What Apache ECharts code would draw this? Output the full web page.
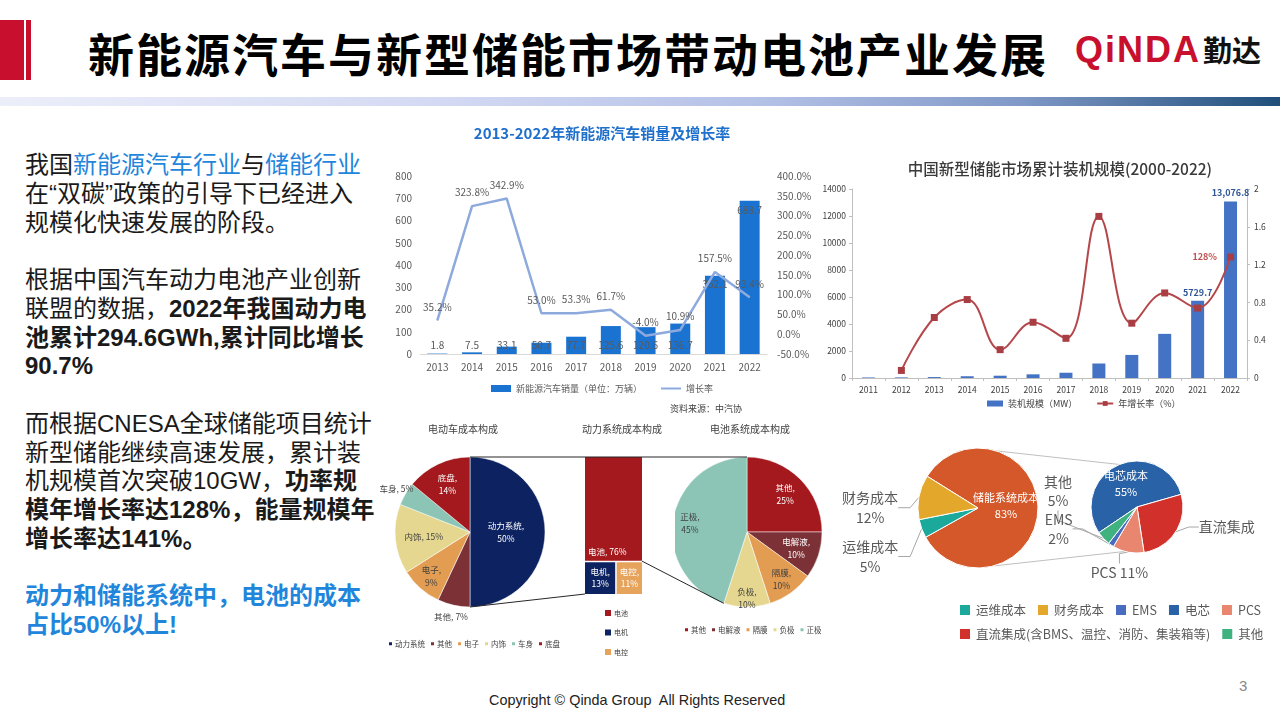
<!DOCTYPE html>
<html><head><meta charset="utf-8">
<script src="https://cdn.jsdelivr.net/npm/echarts/dist/echarts.min.js"></script>
<style>
html,body{margin:0;padding:0;width:1280px;height:720px;overflow:hidden;background:#fff;font-family:"Noto Sans CJK SC",sans-serif;}
.abs{position:absolute;}
.blue{color:#1f86dc;}
b{font-weight:bold;}
</style></head><body>
<div class="abs" style="left:0;top:20px;width:24px;height:60px;background:#c8102e"></div>
<div class="abs" style="left:26px;top:20px;width:5px;height:60px;background:#c8102e"></div>
<div class="abs" style="left:88px;top:29px;font-size:46px;line-height:46px;font-weight:bold;color:#000;letter-spacing:2px;white-space:nowrap;font-family:'Noto Sans CJK SC'">新能源汽车与新型储能市场带动电池产业发展</div>
<div class="abs" style="left:1075px;top:32px;font-size:36px;line-height:36px;font-weight:bold;color:#c8102e;letter-spacing:2px;font-family:'Liberation Sans',Arial,sans-serif;white-space:nowrap">QiNDA</div>
<div class="abs" style="left:1203px;top:35px;font-size:29px;line-height:29px;font-weight:bold;color:#111;white-space:nowrap;font-family:'Noto Sans CJK SC'">勤达</div>
<div class="abs" style="left:0;top:97px;width:1280px;height:9px;background:linear-gradient(to right,#eceef9 0%,#d3d9f3 35%,#b3c0e6 60%,#7f98c6 80%,#1f4e7a 100%)"></div>

<div class="abs" style="left:25px;top:151px;font-size:24px;line-height:28.75px;color:#1a1a1a;white-space:nowrap;font-family:'Liberation Sans','Noto Sans CJK SC',sans-serif">
我国<span class="blue">新能源汽车行业</span>与<span class="blue">储能行业</span><br>
在“双碳”政策的引导下已经进入<br>
规模化快速发展的阶段。<br>
<br>
根据中国汽车动力电池产业创新<br>
联盟的数据，<b>2022年我国动力电</b><br>
<b>池累计294.6GWh,累计同比增长</b><br>
<b>90.7%</b><br>
<br>
而根据CNESA全球储能项目统计<br>
新型储能继续高速发展，累计装<br>
机规模首次突破10GW，<b>功率规</b><br>
<b>模年增长率达128%，能量规模年</b><br>
<b>增长率达141%。</b><br>
<br>
<b class="blue">动力和储能系统中，电池的成本</b><br>
<b class="blue">占比50%以上!</b>
</div>

<div class="abs" style="left:489px;top:691px;font-size:14.4px;line-height:18px;color:#222;white-space:pre;font-family:'Liberation Sans',Arial,sans-serif">Copyright © Qinda Group  All Rights Reserved</div>
<div class="abs" style="left:1239px;top:677px;font-size:15px;line-height:18px;color:#888;font-family:'Liberation Sans',Arial,sans-serif">3</div>

<div id="cA" class="abs" style="left:380px;top:112px;width:444px;height:310px"></div>
<div id="cB" class="abs" style="left:810px;top:150px;width:470px;height:265px"></div>
<div id="cC1" class="abs" style="left:360px;top:415px;width:205px;height:245px"></div>
<div id="cC2" class="abs" style="left:565px;top:415px;width:110px;height:245px"></div>
<div id="cC3" class="abs" style="left:675px;top:415px;width:155px;height:245px"></div>
<div id="cD" class="abs" style="left:830px;top:430px;width:450px;height:225px"></div>
<div id="cO" class="abs" style="left:0;top:0;width:1280px;height:720px;pointer-events:none;z-index:10"></div>

<script>
// ---------------- DATA ----------------
const nevYears = ['2013','2014','2015','2016','2017','2018','2019','2020','2021','2022'];
const nevSales = [1.8, 7.5, 33.1, 50.7, 77.7, 125.6, 120.6, 136.7, 352.1, 688.7];
const nevGrowth = [35.2, 323.8, 342.9, 53.0, 53.3, 61.7, -4.0, 10.9, 157.5, 93.4];
const nevSalesName = '新能源汽车销量（单位：万辆）';
const nevGrowthName = '增长率';

const essYears = ['2011','2012','2013','2014','2015','2016','2017','2018','2019','2020','2021','2022'];
const essCapacity = [40, 43, 70, 130, 170, 272, 390, 1073.7, 1709.6, 3269.2, 5729.7, 13076.8];
const essGrowth = [null, 0.08, 0.64, 0.83, 0.30, 0.59, 0.42, 1.71, 0.58, 0.90, 0.74, 1.28];
const essCapName = '装机规模（MW）';
const essGrowthName = '年增长率（%）';

const carCostNames = ['动力系统','其他','电子','内饰','车身','底盘'];
const carCostShare = [50, 7, 9, 15, 5, 14];
const driveCostNames = ['电池','电机','电控'];
const driveCostShare = [76, 13, 11];
const cellCostNames = ['其他','电解液','隔膜','负极','正极'];
const cellCostShare = [25, 10, 10, 10, 45];

const essCostNames = ['储能系统成本','运维成本','财务成本'];
const essCostShare = [83, 5, 12];
const sysCostNames = ['电芯','直流集成(含BMS、温控、消防、集装箱等)','PCS','EMS','其他'];
const sysCostLabels = ['电芯成本','直流集成','PCS','EMS','其他'];
const sysCostShare = [55, 27, 11, 2, 5];
const essLegendOrder = ['运维成本','财务成本','EMS','电芯','PCS','直流集成(含BMS、温控、消防、集装箱等)','其他'];

// ---------------- STYLE ----------------
const FONT = '"Noto Sans CJK SC", sans-serif';
const carColors = ['#0d2260','#7b3136','#e29d52','#e5d78f','#8cc5b6','#a3191d'];
const carLabelColors = ['#fff','#404040','#404040','#404040','#404040','#fff'];
const carLabelFmt = ['{b},\n{c}%','{b}, {c}%','{b},\n{c}%','{b}, {c}%','{b}, {c}%','{b},\n{c}%'];
const carLabelR = [0.48, 1.16, 0.78, 0.62, 1.14, 0.71];
const driveColors = ['#a3191d','#0d2260','#e6a35c'];
const cellColors = ['#a3191d','#7b3136','#e29d52','#e5d78f','#8cc5b6'];
const cellLabelColors = ['#fff','#fff','#404040','#404040','#404040'];
const cellLabelR = [0.72, 0.69, 0.78, 0.88, 0.77];
const essColors = ['#d4582a','#1aa99b','#e3a72b'];
const sysColors = ['#2a62a7','#d1302b','#e9866f','#4a6cc0','#3fb27f'];
const sysLabelFmt = ['{n}\n{v}%','{n}','{n} {v}%','{n}\n{v}%','{n}\n{v}%'];
const essLabelNudge = [[-5,-3],[1,25],[4,12]];
const sysLabelNudge = [null,[3,-8],[36,15],[-20,-21],[-12,-51]];

// geometry (page px)
const P1 = {cx:470, cy:532, r:75};
const P3 = {cx:747, cy:532, r:75};
const TM = {x:585, y:457, w:57, h:137};
const BIG = {cx:148, cy:78, r:60, start:148};
const SMALL = {cx:307, cy:77, r:46, start:214};
const C1_LEFT = 360;

function radialLabels(cx, cy, r, ratios) {
  return function (p) {
    const k = ratios[p.dataIndex];
    if (k == null) return {};
    const b = p.labelRect;
    const mx = b.x + b.width / 2, my = b.y + b.height / 2;
    const vx = mx - cx, vy = my - cy, d = Math.hypot(vx, vy) || 1;
    return {x: cx + vx / d * k * r, y: cy + vy / d * k * r, align: 'center', verticalAlign: 'middle'};
  };
}
function nudgeLabels(offsets) {
  return function (p) {
    const o = offsets[p.dataIndex];
    if (!o) return {};
    const b = p.labelRect;
    return {x: b.x + b.width / 2 + o[0], y: b.y + b.height / 2 + o[1], align: 'center', verticalAlign: 'middle'};
  };
}
function titleText(x, y, text, size, color, weight) {
  return {type:'text', x:x, y:y, style:{text:text, fill:color, font:(weight||'normal') + ' ' + size + 'px ' + FONT, textAlign:'center', textVerticalAlign:'middle', align:'center', verticalAlign:'middle'}};
}

// ---------------- CHART A ----------------
const cA = echarts.init(document.getElementById('cA'));
cA.setOption({
  animation:false,
  textStyle:{fontFamily:FONT},
  title:{text:'2013-2022年新能源汽车销量及增长率', left:'center', top:9, textStyle:{color:'#1f6fcc', fontSize:15, fontWeight:'bold', fontFamily:FONT}},
  grid:{left:40, right:57, top:64, bottom:68},
  legend:{top:272, left:'center', itemWidth:20, itemHeight:7, itemGap:18, padding:0,
    textStyle:{fontSize:9, color:'#595959', fontFamily:FONT},
    data:[{name:nevSalesName, icon:'rect'}, {name:nevGrowthName, itemStyle:{opacity:0}}]},
  xAxis:{type:'category', data:nevYears, axisLine:{lineStyle:{color:'#d9d9d9'}}, axisTick:{show:false},
    axisLabel:{color:'#595959', fontSize:10, margin:8}},
  yAxis:[
    {type:'value', min:0, max:800, interval:100, axisLine:{show:false}, axisTick:{show:false}, splitLine:{show:false},
      axisLabel:{color:'#595959', fontSize:10, margin:8}},
    {type:'value', min:-50, max:400, interval:50, position:'right', axisLine:{show:false}, axisTick:{show:false}, splitLine:{show:false},
      axisLabel:{color:'#595959', fontSize:10, margin:10, formatter:v => v.toFixed(1) + '%'}}
  ],
  series:[
    {type:'bar', name:nevSalesName, barWidth:20, itemStyle:{color:'#1a73d1'},
      label:{show:true, color:'#595959', fontSize:10, distance:4},
      data:nevSales.map(v => ({value:v, label:{position: v > 300 ? 'insideTop' : 'insideBottom'}}))},
    {type:'line', name:nevGrowthName, yAxisIndex:1, data:nevGrowth, symbol:'circle', symbolSize:1, showSymbol:true,
      lineStyle:{color:'#8eaadc', width:2.5}, itemStyle:{color:'#8eaadc'}, z:3,
      label:{show:true, position:'top', distance:8, color:'#595959', fontSize:10, formatter:p => p.value.toFixed(1) + '%'}}
  ],
  graphic:[{type:'text', left:290, top:292, style:{text:'资料来源：中汽协', fill:'#404040', font:'9px ' + FONT}}]
});

// ---------------- CHART B ----------------
const cB = echarts.init(document.getElementById('cB'));
const lastIdx = essYears.length - 1;
cB.setOption({
  animation:false,
  textStyle:{fontFamily:FONT},
  graphic:[titleText(250, 19, '中国新型储能市场累计装机规模(2000-2022)', 15.5, '#3a3a3a', '500')],
  grid:{left:42, right:33, top:39, bottom:37},
  legend:{top:249, left:177, itemWidth:16, itemHeight:6, itemGap:19, padding:0,
    textStyle:{fontSize:9, color:'#404040', fontFamily:FONT},
    data:[{name:essCapName, icon:'rect'}, {name:essGrowthName}]},
  xAxis:{type:'category', data:essYears, axisLine:{lineStyle:{color:'#bfbfbf'}},
    axisTick:{show:true, length:3, lineStyle:{color:'#bfbfbf'}},
    axisLabel:{color:'#404040', fontSize:8.5, margin:8}},
  yAxis:[
    {type:'value', min:0, max:14000, interval:2000, axisLine:{show:true, lineStyle:{color:'#bfbfbf'}},
      axisTick:{show:true, length:3, lineStyle:{color:'#bfbfbf'}}, splitLine:{show:false},
      axisLabel:{color:'#404040', fontSize:8.5, margin:6, formatter:v => String(v)}},
    {type:'value', min:0, max:2, interval:0.4, position:'right', axisLine:{show:true, lineStyle:{color:'#bfbfbf'}},
      axisTick:{show:true, length:3, lineStyle:{color:'#bfbfbf'}}, splitLine:{show:false},
      axisLabel:{color:'#404040', fontSize:8.5, margin:7, formatter:v => String(Math.round(v * 10) / 10)}}
  ],
  series:[
    {type:'bar', name:essCapName, barWidth:13, itemStyle:{color:'#4472c4'},
      label:{show:false, position:'top', distance:4, color:'#2f5597', fontSize:9, fontWeight:'bold',
        formatter:p => p.value >= 10000 ? p.value.toLocaleString('en-US', {minimumFractionDigits:1}) : String(p.value)},
      data:essCapacity.map(v => ({value:v, label:{show: v > 5000}}))},
    {type:'line', name:essGrowthName, yAxisIndex:1, smooth:0.4, connectNulls:false,
      symbol:'rect', symbolSize:7, lineStyle:{color:'#b5474b', width:2}, itemStyle:{color:'#a83e43'}, z:3,
      label:{show:false, position:'left', distance:10, color:'#c0504d', fontSize:9, fontWeight:'bold',
        formatter:p => Math.round(p.value * 100) + '%'},
      data:essGrowth.map((v, i) => ({value:v, label:{show: i === lastIdx}}))}
  ]
});

// ---------------- CHART C1 (car cost pie) ----------------
const c1 = echarts.init(document.getElementById('cC1'));
const c1cx = P1.cx - C1_LEFT, c1cy = P1.cy - 415;
c1.setOption({
  animation:false,
  graphic:[titleText(463 - C1_LEFT, 14, '电动车成本构成', 10, '#404040')],
  legend:{left:387 - C1_LEFT, top:225, padding:0, itemWidth:5, itemHeight:5, itemGap:4, icon:'rect',
    textStyle:{fontSize:7.5, color:'#404040', fontFamily:FONT, padding:[0,0,0,-3]}, data:carCostNames},
  series:[{type:'pie', center:[c1cx, c1cy], radius:P1.r, startAngle:90, clockwise:true, avoidLabelOverlap:false,
    itemStyle:{borderColor:'#fff', borderWidth:0.5},
    label:{show:true, position:'inside', fontSize:8.5, fontFamily:FONT, lineHeight:13},
    labelLine:{show:false},
    labelLayout:radialLabels(c1cx, c1cy, P1.r, carLabelR),
    emphasis:{disabled:true},
    data:carCostNames.map((n, i) => ({name:n, value:carCostShare[i], itemStyle:{color:carColors[i]},
      label:{color:carLabelColors[i], formatter:carLabelFmt[i]}}))}]
});

// ---------------- CHART C2 (drive system treemap) ----------------
const c2 = echarts.init(document.getElementById('cC2'));
const c2legend = [];
driveCostNames.forEach((n, i) => {
  const y = 198 + i * 19.5;
  c2legend.push({type:'rect', shape:{x:40, y:y - 3, width:6, height:6}, style:{fill:driveColors[i]}});
  c2legend.push({type:'text', x:49, y:y, style:{text:n, fill:'#404040', font:'7px ' + FONT, textVerticalAlign:'middle', verticalAlign:'middle'}});
});
const tmLabelBase = {overflow:'none', lineOverflow:'none', padding:1, color:'#fff', fontSize:8.5, fontFamily:FONT, lineHeight:12};
c2.setOption({
  animation:false,
  graphic:[titleText(57, 14, '动力系统成本构成', 10, '#404040')].concat(c2legend),
  series:[{type:'treemap', left:TM.x - 565, top:TM.y - 415, width:TM.w, height:TM.h, roam:false, nodeClick:false,
    breadcrumb:{show:false}, itemStyle:{borderWidth:0, gapWidth:1.5, borderColor:'#fff'},
    levels:[{itemStyle:{borderWidth:0, gapWidth:1.5, borderColor:'#fff'}}],
    label:Object.assign({show:true, position:'inside'}, tmLabelBase),
    emphasis:{disabled:true},
    data:driveCostNames.map((n, i) => ({name:n, value:driveCostShare[i], itemStyle:{color:driveColors[i]},
      label: Object.assign({}, tmLabelBase, i === 0
        ? {position:'insideBottomLeft', distance:2, formatter:'{b}, {c}%'}
        : {position:'inside', formatter:'{b},\n{c}%'})}))}]
});

// ---------------- CHART C3 (cell cost pie) ----------------
const c3 = echarts.init(document.getElementById('cC3'));
const c3cx = P3.cx - 675, c3cy = P3.cy - 415;
c3.setOption({
  animation:false,
  graphic:[titleText(75, 14, '电池系统成本构成', 10, '#404040')],
  legend:{left:8, top:211, padding:0, itemWidth:5, itemHeight:5, itemGap:4, icon:'rect',
    textStyle:{fontSize:7.5, color:'#404040', fontFamily:FONT, padding:[0,0,0,-3]}, data:cellCostNames},
  series:[{type:'pie', center:[c3cx, c3cy], radius:P3.r, startAngle:90, clockwise:true, avoidLabelOverlap:false,
    itemStyle:{borderColor:'#fff', borderWidth:0.5},
    label:{show:true, position:'inside', fontSize:8.5, fontFamily:FONT, lineHeight:13, formatter:'{b},\n{c}%'},
    labelLine:{show:false},
    labelLayout:radialLabels(c3cx, c3cy, P3.r, cellLabelR),
    emphasis:{disabled:true},
    data:cellCostNames.map((n, i) => ({name:n, value:cellCostShare[i], itemStyle:{color:cellColors[i]},
      label:{color:cellLabelColors[i]}}))}]
});

// ---------------- CHART D (storage cost pie of pie) ----------------
const cD = echarts.init(document.getElementById('cD'));
function polar(c, deg) { const a = deg * Math.PI / 180; return [c.cx + c.r * Math.cos(a), c.cy - c.r * Math.sin(a)]; }
const bt = polar(BIG, 72), st = polar(SMALL, 55), bb = polar(BIG, -75), sb = polar(SMALL, -105);
cD.setOption({
  animation:false,
  graphic:[
    {type:'line', shape:{x1:bt[0], y1:bt[1], x2:st[0], y2:st[1]}, style:{stroke:'#bfbfbf', lineWidth:1}},
    {type:'line', shape:{x1:bb[0], y1:bb[1], x2:sb[0], y2:sb[1]}, style:{stroke:'#bfbfbf', lineWidth:1}}
  ],
  legend:{left:128, top:173, width:310, padding:0, itemWidth:12, itemHeight:12, itemGap:10, icon:'rect',
    textStyle:{fontSize:12.5, color:'#595959', fontFamily:FONT}, data:essLegendOrder},
  series:[
    {type:'pie', center:[BIG.cx, BIG.cy], radius:BIG.r, startAngle:BIG.start, clockwise:true, avoidLabelOverlap:false,
      itemStyle:{borderColor:'#fff', borderWidth:1},
      label:{show:true, position:'outside', fontSize:14, color:'#595959', fontFamily:FONT, lineHeight:20, formatter:'{b}\n{c}%'},
      labelLine:{show:true, length:8, length2:12, lineStyle:{color:'#a6a6a6', width:1}},
      labelLayout:nudgeLabels(essLabelNudge),
      emphasis:{disabled:true},
      data:essCostNames.map((n, i) => ({name:n, value:essCostShare[i], itemStyle:{color:essColors[i]},
        label: i === 0 ? {position:'inside', color:'#fff', fontSize:11, lineHeight:16} : {}}))},
    {type:'pie', center:[SMALL.cx, SMALL.cy], radius:SMALL.r, startAngle:SMALL.start, clockwise:true, avoidLabelOverlap:false,
      itemStyle:{borderColor:'#fff', borderWidth:1},
      label:{show:true, position:'outside', fontSize:14, color:'#595959', fontFamily:FONT, lineHeight:19,
        formatter:p => sysLabelFmt[p.dataIndex].replace('{n}', sysCostLabels[p.dataIndex]).replace('{v}', p.value)},
      labelLine:{show:true, length:6, length2:10, lineStyle:{color:'#a6a6a6', width:1}},
      labelLayout:nudgeLabels(sysLabelNudge),
      emphasis:{disabled:true},
      data:sysCostNames.map((n, i) => ({name:n, value:sysCostShare[i], itemStyle:{color:sysColors[i]},
        label: i === 0 ? {position:'inside', color:'#fff', fontSize:11, lineHeight:16} : {}}))}
  ]
});

// ---------------- OVERLAY connectors ----------------
const cO = echarts.init(document.getElementById('cO'));
const driveTop = driveCostShare[0] / driveCostShare.reduce((a, b) => a + b, 0);
const cellSum = cellCostShare.reduce((a, b) => a + b, 0);
const cellCum = cellCostShare.slice(0, 4).reduce((a, b) => a + b, 0) / cellSum;
const p3pt = polar(P3, 90 - 360 * cellCum);
cO.setOption({
  animation:false,
  graphic:[
    {type:'line', shape:{x1:P1.cx, y1:P1.cy - P1.r, x2:P3.cx, y2:P3.cy - P3.r}, style:{stroke:'#262626', lineWidth:1}},
    {type:'line', shape:{x1:P1.cx, y1:P1.cy + P1.r, x2:TM.x, y2:TM.y + TM.h}, style:{stroke:'#262626', lineWidth:1}},
    {type:'line', shape:{x1:TM.x + TM.w, y1:TM.y + TM.h * driveTop, x2:p3pt[0], y2:p3pt[1]}, style:{stroke:'#262626', lineWidth:1}}
  ]
});
</script>
</body></html>
